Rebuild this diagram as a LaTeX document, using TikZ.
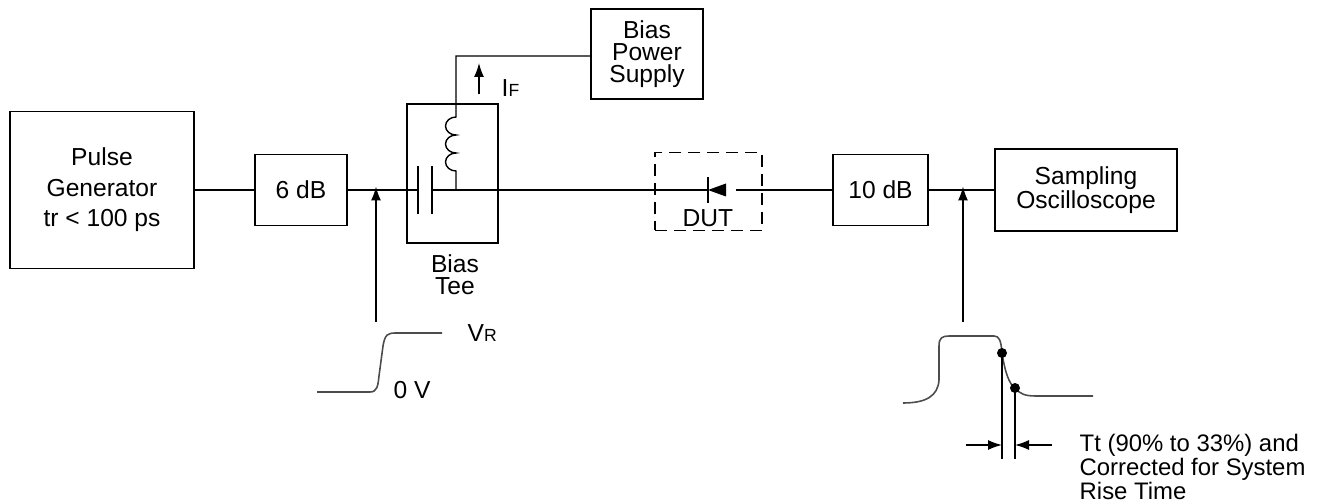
\documentclass[tikz,border=0pt]{standalone}
\usepackage{fontspec}
\setmainfont{Liberation Sans}
\usetikzlibrary{positioning,shapes,arrows.meta}

\begin{document}
\begin{tikzpicture}[x=0.02cm, y=-0.02cm, line width=0.8pt,
        blk/.style = {shape=rectangle, draw, align=center, inner sep=0pt,
        font=\fontsize{14}{12.5}\selectfont},
        lbl/.style = {align=center, inner sep=0pt, font=\fontsize{14}{12.5}\selectfont},
        arr/.style = {-{Latex[length=2.8mm,width=2mm]}},
        wave/.style = {draw=black!70, line width=0.9pt}]
    \useasboundingbox (0,0) rectangle (1323,503);
    % blocks
    \node[blk, minimum width=3.68cm, minimum height=3.14cm] (pulsegen) at (102,190)
        {Pulse\\[4.8pt]Generator\\[4.8pt]tr < 100 ps};
    \node[blk, minimum width=1.84cm, minimum height=1.42cm] (attsix) at (301,190) {6 dB};
    \node[blk, minimum width=1.82cm, minimum height=2.78cm] (biastee) at (452.5,173.5) {};
    \node[blk, minimum width=2.24cm, minimum height=1.8cm] (biasps) at (647,54)
        {Bias\\Power\\Supply};
    \node[blk, dash pattern=on 6.8pt off 4pt, minimum width=2.14cm, minimum height=1.56cm] (dut) at (708.5,191.5) {};
    \node[blk, minimum width=1.9cm, minimum height=1.42cm] (attten) at (880.5,190) {10 dB};
    \node[blk, minimum width=3.64cm, minimum height=1.64cm] (scope) at (1086,190)
        {Sampling\\Oscilloscope};
    \node[lbl] (teelbl) at (455,275) {Bias\\Tee};
    \node[lbl] (dutlbl) at (708,218) {DUT};

    % main line
    \coordinate (cap) at (425,190);
    \coordinate (ind) at (456,190);
    \coordinate (dio) at (708,190);
    \draw (pulsegen.east) -- (attsix.west);
    \draw (attsix.east) -- (cap -| biastee.west) -- ([xshift=-4]cap);
    \draw ([xshift=4]cap) -- (dio);
    \draw (attten.west) -- ([xshift=16]dio);
    \draw (attten.east) -- (scope.west);
    % capacitor
    \draw ([xshift=-4,yshift=-13.5]cap) -- ([xshift=-4,yshift=13.5]cap);
    \draw ([xshift=4,yshift=-13.5]cap) -- ([xshift=4,yshift=13.5]cap);
    % inductor to supply
    \coordinate (coil) at (456,171);
    \coordinate (top) at (456,56);
    \draw (ind) -- (coil)
        arc[start angle=270, end angle=90, x radius=0.21cm, y radius=0.18cm]
        arc[start angle=270, end angle=90, x radius=0.21cm, y radius=0.18cm]
        arc[start angle=270, end angle=90, x radius=0.21cm, y radius=0.18cm]
        -- (top) -- (top -| biasps.west);
    \draw[arr] (479,94) -- (479,63);
    \node[lbl, anchor=west] (iflbl) at (501,88) {I{\fontsize{10}{10}\selectfont F}};
    % diode
    \draw (708,177) -- (708,203);
    \fill (dio) -- (726,183.5) -- (726,196.5) -- cycle;

    % input step
    \coordinate (pin) at (376,322);
    \draw[arr] (pin) -- ([yshift=2]pin |- attsix.east);
    \draw[wave] (317,392) -- (370,392) .. controls (377,392) and (378,386) .. (379,376)
        -- (383,346) .. controls (385,334) and (388,333) .. (396,333) -- (442,333);
    \node[lbl, anchor=west] (vrlbl) at (467,333) {V{\fontsize{10}{10}\selectfont R}};
    \node[lbl, anchor=west] (zerolbl) at (393,390) {0 V};

    % output waveform
    \coordinate (pout) at (963,322);
    \draw[arr] (pout) -- ([yshift=2]pout |- scope.west);
    \coordinate (hi) at (1002,353);
    \coordinate (lo) at (1015,388);
    \draw[wave] (903,403) .. controls (926,403) and (938,396) .. (939,380)
        -- (939,346) .. controls (939,338) and (942,336) .. (949,336) -- (994,336)
        .. controls (999,336) and (1001,340) .. (hi)
        .. controls (1005,372) and (1009,384) .. (lo)
        .. controls (1020,394) and (1025,396) .. (1036,396) -- (1093,396);
    \fill (hi) circle[radius=0.1cm];
    \fill (lo) circle[radius=0.1cm];
    \draw (hi) -- (hi |- 0,459);
    \draw (lo) -- (lo |- 0,459);
    \draw[arr] (966,445) -- (hi |- 0,445);
    \draw[arr] (1052,445) -- (lo |- 0,445);
    \node[lbl, anchor=north west, align=left, font=\fontsize{13.6}{11.8}\selectfont] (ttlbl) at (1079,433)
        {Tt (90\% to 33\%) and\\Corrected for System\\Rise Time};
\end{tikzpicture}
\end{document}
